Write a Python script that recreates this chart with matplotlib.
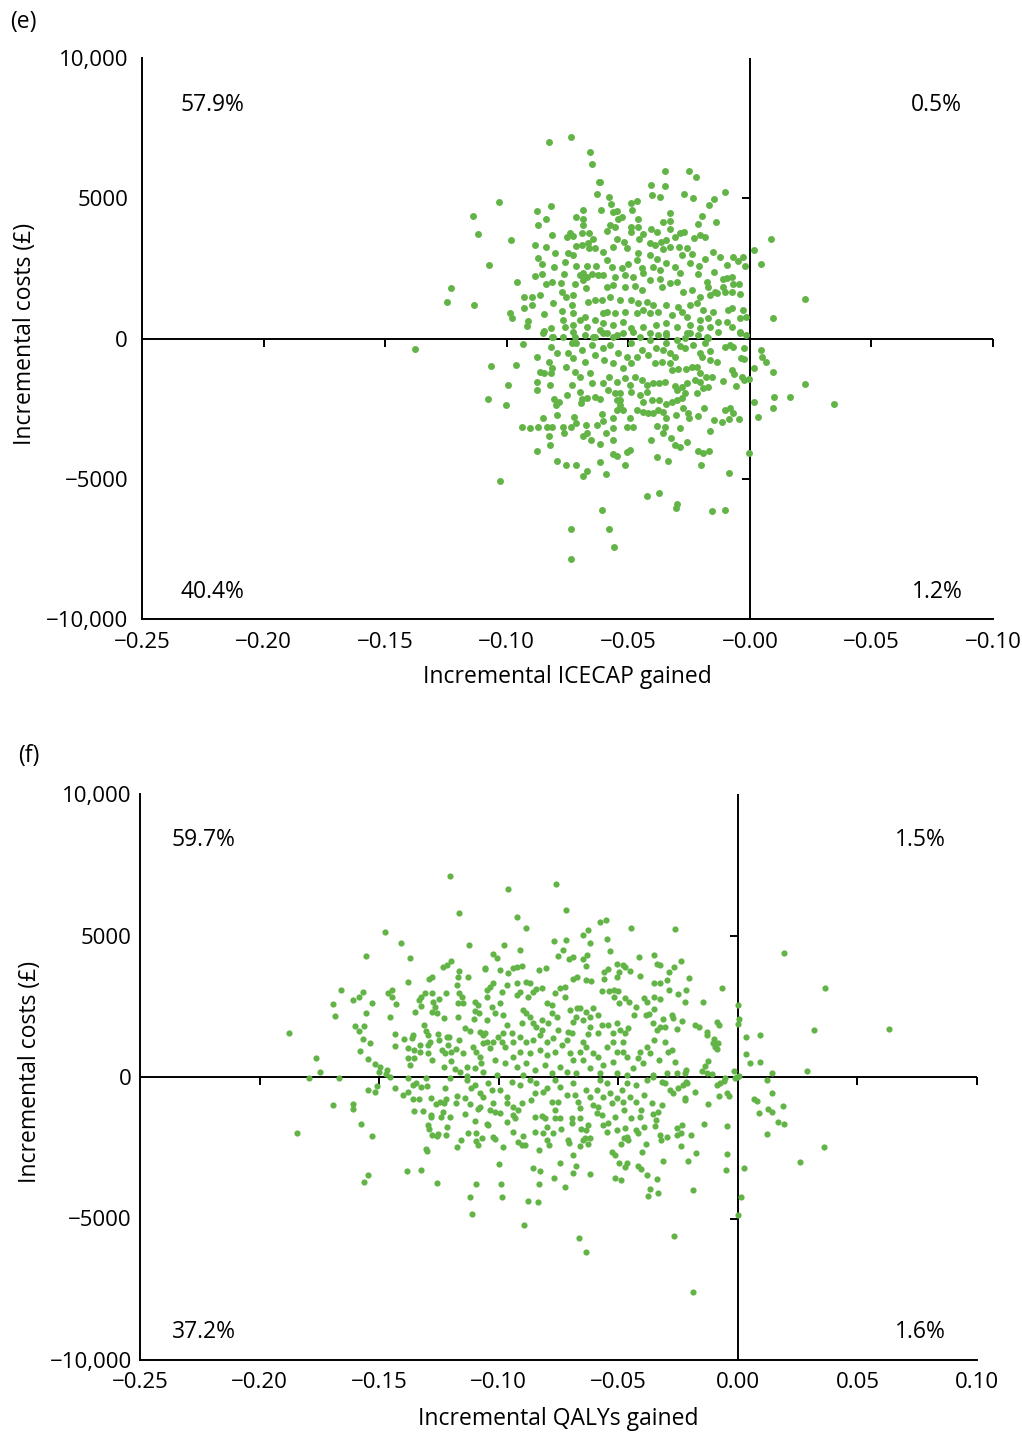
import numpy as np
import matplotlib
matplotlib.use("Agg")
import matplotlib.pyplot as plt

plt.rcParams['font.family'] = ['Open Sans', 'DejaVu Sans']

GREEN = '#63b446'

# ---------------- data: panel (e) incremental ICECAP gained vs incremental cost ----------------
icecap_points = [
(-0.0827,6995),(-0.0736,7172),(-0.0658,6660),(-0.0649,6232),(-0.0620,5579),(-0.0628,5162),(-0.0580,5044),(-0.0613,4581),
(-0.1031,4877),(-0.1138,4356),(-0.1120,3714),(-0.0983,3522),(-0.1073,2610),(-0.1231,1811),(-0.1247,1290),(-0.1136,1194),(-0.0958,2003),
(-0.0877,4556),(-0.0818,4713),(-0.0840,4271),(-0.0871,4046),(-0.0813,3690),(-0.0687,4581),(-0.0713,4342),(-0.0687,4250),(-0.0686,4046),
(-0.0884,3333),(-0.0839,3251),(-0.0870,2859),(-0.0803,3037),(-0.0853,2656),(-0.0805,2549),(-0.0884,2228),(-0.0853,2299),(-0.0839,1943),(-0.0813,2003),
(-0.0928,1479),(-0.0895,1490),(-0.0927,1098),(-0.0898,1194),(-0.0862,1551),(-0.0810,1255),(-0.0846,884),(-0.0987,920),(-0.0980,742),(-0.0912,624),(-0.0918,446),
(-0.0847,278),(-0.0816,364),(-0.0813,64),
(-0.0754,3629),(-0.0740,3750),(-0.0727,3654),(-0.0692,3750),(-0.0661,3772),(-0.0645,3536),(-0.0717,3308),(-0.0692,3333),(-0.0665,3394),(-0.0747,3059),(-0.0729,2977),(-0.0663,3216),(-0.0637,3216),
(-0.0761,2738),(-0.0716,2595),(-0.0669,2595),(-0.0631,2595),(-0.0764,2299),(-0.0699,2264),(-0.0688,2346),(-0.0671,2203),(-0.0651,2299),(-0.0624,2264),(-0.0720,1943),(-0.0688,2086),
(-0.0777,1967),(-0.0774,1668),(-0.0757,1490),(-0.0727,1551),(-0.0673,1790),(-0.0665,1312),(-0.0637,1372),(-0.0610,1372),
(-0.0732,1194),(-0.0774,991),(-0.0727,898),(-0.0699,660),(-0.0679,777),(-0.0637,660),(-0.0603,898),(-0.0768,660),(-0.0761,421),(-0.0729,481),(-0.0671,421),(-0.0617,303),(-0.0720,64),(-0.0637,64),(-0.0589,185),
(-0.0347,5971),(-0.0252,5971),(-0.0223,5768),(-0.0407,5483),(-0.0348,5426),(-0.0402,5105),(-0.0370,5055),(-0.0269,5141),(-0.0234,5009),(-0.0104,5223),(-0.0148,4984),(-0.0169,4749),(-0.0196,4378),(-0.0140,4142),(-0.0215,4082),
(-0.0617,5590),(-0.0573,4784),(-0.0562,4521),(-0.0548,4556),(-0.0489,4841),(-0.0464,4902),(-0.0484,4581),(-0.0458,4260),(-0.0524,4321),(-0.0541,4260),
(-0.0330,4474),(-0.0330,4200),(-0.0359,4142),(-0.0329,3893),(-0.0408,3904),(-0.0458,3964),(-0.0489,3964),(-0.0489,3786),(-0.0589,3832),(-0.0576,4046),(-0.0555,3986),
(-0.0439,3725),(-0.0380,3786),(-0.0288,3750),(-0.0271,3807),(-0.0229,3572),(-0.0206,3690),(-0.0185,3608),
(-0.0548,3536),(-0.0455,3547),(-0.0517,3451),(-0.0411,3415),(-0.0391,3333),(-0.0366,3451),(-0.0343,3511),(-0.0308,3629),(-0.0329,3251),(-0.0292,3273),(-0.0258,3216),
(-0.0151,3073),(-0.0121,2895),(-0.0069,2895),(-0.0048,2774),(-0.0028,2895),(-0.0021,2595),(-0.0093,2620),
(-0.0236,3012),(-0.0281,2977),(-0.0247,2681),(-0.0209,2585),(-0.0185,2823),(-0.0147,2381),(-0.0215,2299),
(-0.0357,3180),(-0.0411,2977),(-0.0381,2823),(-0.0459,3037),(-0.0507,3216),(-0.0562,3273),(-0.0603,3094),(-0.0589,2798),(-0.0569,2560),(-0.0524,2503),(-0.0500,2656),(-0.0466,2798),(-0.0445,2503),(-0.0398,2560),(-0.0370,2442),(-0.0343,2681),(-0.0308,2560),(-0.0288,2324),
(-0.0603,2264),(-0.0555,2203),(-0.0514,2264),(-0.0480,2203),(-0.0439,2324),(-0.0411,2086),(-0.0370,2110),(-0.0329,1968),(-0.0299,2025),
(-0.0178,2025),(-0.0172,1847),(-0.0144,1668),(-0.0110,2110),(-0.0096,2146),(-0.0075,2182),(-0.0069,1932),(-0.0044,1943),(-0.0110,1847),(-0.0103,1647),(-0.0075,1647),(-0.0041,1576),(-0.0137,1611),(-0.0165,1551),
(-0.0589,1847),(-0.0562,1907),(-0.0514,1847),(-0.0473,1882),(-0.0445,1729),(-0.0363,1847),(-0.0274,1668),(-0.0240,1729),(-0.0206,1490),
(-0.0576,1490),(-0.0535,1372),(-0.0487,1372),(-0.0459,1255),(-0.0425,1312),(-0.0398,1194),(-0.0343,1194),(-0.0295,1134),(-0.0247,1194),(-0.0219,1276),(-0.0192,1016),(-0.0151,955),(-0.0089,1016),(-0.0075,1077),(-0.0028,1016),
(-0.0589,955),(-0.0555,898),(-0.0514,955),(-0.0466,898),(-0.0439,1016),(-0.0411,898),(-0.0377,955),(-0.0322,838),(-0.0281,955),(-0.0260,777),(-0.0206,660),(-0.0172,720),(-0.0130,599),(-0.0096,599),(-0.0041,720),(-0.0014,756),
(-0.0603,542),(-0.0562,481),(-0.0521,599),(-0.0487,364),(-0.0439,421),(-0.0384,481),(-0.0343,542),(-0.0301,421),(-0.0247,481),(-0.0206,364),(-0.0165,421),(-0.0075,421),(-0.0041,232),(-0.0014,125),
(-0.0548,125),(-0.0411,185),(-0.0343,125),(-0.0247,185),(-0.0178,64),
(0.0015,3155),(0.0086,3558),(0.0044,2656),(0.0227,1397),(0.0095,720),
(-0.1379,-364),(-0.0931,-196),(-0.1065,-991),(-0.0960,-955),(-0.0993,-1647),(-0.1079,-2146),(-0.1002,-2381),
(-0.0877,-670),(-0.0825,-838),(-0.0864,-1194),(-0.0846,-1219),(-0.0816,-1241),(-0.0812,-1062),(-0.0876,-1561),(-0.0875,-1825),(-0.0824,-1647),
(-0.0818,-292),(-0.0794,-528),(-0.0758,-1005),(-0.0732,-1668),(-0.0754,-2025),(-0.0805,-2146),(-0.0784,-2253),(-0.0799,-2381),
(-0.0700,-1918),(-0.0692,-2157),(-0.0671,-2132),(-0.0696,-2310),(-0.0635,-2096),(-0.0617,-2157),
(-0.0938,-3166),(-0.0905,-3180),(-0.0871,-3166),(-0.0835,-3166),(-0.0812,-3155),(-0.0849,-2834),(-0.0794,-2717),(-0.0828,-3465),(-0.0822,-3807),(-0.0877,-4000),
(-0.0770,-3166),(-0.0764,-3358),(-0.0735,-3144),(-0.0725,-2810),(-0.0713,-3002),(-0.0675,-3094),(-0.0668,-3358),(-0.0688,-3476),(-0.0654,-3629),(-0.0618,-3761),(-0.0628,-3073),(-0.0609,-2692),(-0.0605,-2931),(-0.0592,-3369),
(-0.0795,-4356),(-0.0756,-4521),(-0.0713,-4499),(-0.0687,-4902),(-0.0671,-4724),(-0.0616,-4392),(-0.0592,-4831),
(-0.1029,-5080),(-0.0608,-6103),(-0.0736,-6791),(-0.0581,-6791),(-0.0559,-7422),(-0.0736,-7850),
(-0.0850,185),(-0.0809,64),(-0.0768,64),(-0.0727,242),(-0.0679,125),(-0.0645,64),(-0.0603,185),
(-0.0733,-171),(-0.0713,-150),(-0.0692,-410),(-0.0651,-232),(-0.0603,-349),(-0.0576,-232),
(-0.0747,-528),(-0.0727,-706),(-0.0679,-827),(-0.0637,-588),(-0.0600,-766),(-0.0562,-884),
(-0.0720,-1184),(-0.0699,-1362),(-0.0658,-1241),(-0.0651,-1597),(-0.0606,-1597),(-0.0579,-1362),(-0.0548,-1540),(-0.0583,-1836),(-0.0555,-1954),(-0.0548,-2193),(-0.0548,-2549),(-0.0562,-2845),(-0.0562,-3201),(-0.0562,-3618),(-0.0562,-4117),(-0.0548,-4189),
(0.0044,-410),(0.0048,-648),(0.0065,-838),(0.0016,-1062),(0.0097,-1194),(0.0228,-1633),(0.0015,-2253),(0.0100,-2086),(0.0167,-2086),(0.0097,-2467),(0.0033,-2810),(0.0345,-2346),(-0.0004,-4082),
(-0.0086,-4806),(-0.0202,-4499),(-0.0170,-4021),(-0.0213,-4000),(-0.0192,-4093),(-0.0337,-4378),(-0.0380,-4236),(-0.0422,-5615),(-0.0374,-5497),(-0.0301,-5900),(-0.0304,-6043),(-0.0156,-6139),(-0.0102,-6125),
(-0.0514,-4521),(-0.0406,-3618),(-0.0324,-3536),(-0.0308,-3797),(-0.0288,-3857),(-0.0258,-3679),(-0.0289,-3201),(-0.0359,-3380),(-0.0348,-3144),(-0.0380,-3109),(-0.0507,-4035),(-0.0494,-3975),
(-0.0215,-2763),(-0.0188,-2467),(-0.0165,-3287),(-0.0149,-2916),(-0.0114,-2988),(-0.0085,-2870),(-0.0045,-2859),(-0.0103,-2549),(-0.0082,-2488),(-0.0069,-2645),
(-0.0112,-1504),(-0.0055,-1693),(-0.0034,-1362),(-0.0025,-1479),(-0.0003,-1455),(-0.0073,-1123),(-0.0065,-1276),(-0.0038,-706),(-0.0025,-742),(-0.0025,-349),(-0.0082,-232),(-0.0103,-292),(-0.0069,-292),(-0.0041,207),(-0.0130,242),
(-0.0137,-827),(-0.0165,-766),(-0.0165,-435),(-0.0206,-528),(-0.0195,-648),(-0.0185,-171),(-0.0172,7),(-0.0213,125),(-0.0233,-232),(-0.0267,-349),
(-0.0236,-1005),(-0.0219,-1005),(-0.0206,-1241),(-0.0226,-1479),(-0.0206,-1540),(-0.0181,-1383),(-0.0155,-1383),(-0.0192,-1775),(-0.0172,-1718),(-0.0219,-1954),
(-0.0260,-1597),(-0.0281,-1718),(-0.0301,-1836),(-0.0267,-1954),(-0.0281,-2132),(-0.0301,-2193),(-0.0322,-2253),(-0.0343,-2335),(-0.0373,-2193),(-0.0377,-2549),(-0.0357,-2610),(-0.0343,-2845),(-0.0304,-2727),(-0.0274,-2488),(-0.0254,-2645),(-0.0250,-2845),
(-0.0322,-1123),(-0.0295,-1098),(-0.0263,-1098),(-0.0306,-1693),(-0.0350,-1540),(-0.0373,-1597),(-0.0398,-1597),(-0.0425,-1658),(-0.0445,-1479),(-0.0473,-1362),(-0.0494,-1658),(-0.0514,-1419),
(-0.0535,-1954),(-0.0487,-1896),(-0.0452,-2014),(-0.0425,-1896),(-0.0535,-2193),(-0.0535,-2371),(-0.0521,-2549),(-0.0494,-2845),(-0.0466,-2549),(-0.0439,-2610),(-0.0418,-2667),(-0.0398,-2667),(-0.0480,-3144),(-0.0507,-3144),
(-0.0439,-2253),(-0.0404,-2193),(-0.0391,-884),(-0.0363,-827),(-0.0329,-884),(-0.0308,-648),(-0.0329,-528),(-0.0357,-410),(-0.0384,-349),(-0.0418,-588),(-0.0445,-410),(-0.0466,-648),(-0.0487,-884),(-0.0521,-1062),(-0.0507,-648),(-0.0541,-528),
(-0.0487,-171),(-0.0411,-53),(-0.0452,64),(-0.0377,125),(-0.0343,185),(-0.0301,-53),(-0.0267,7),(-0.0260,185),(-0.0521,185),(-0.0562,64),(-0.0480,242),(-0.0343,-171),(-0.0288,-267),
]

# ---------------- data: panel (f) incremental QALYs gained vs incremental cost ----------------
qaly_points = [
(-0.1204,7093),(-0.1167,5806),(-0.1126,4676),(-0.1475,5135),(-0.1408,4725),(-0.1372,4195),(-0.1557,4266),(-0.1661,3075),(-0.1695,2580),(-0.1685,2156),(-0.1611,2721),(-0.1584,2838),(-0.1569,2993),(-0.1530,2604),(-0.1557,2251),(-0.1602,1802),(-0.1586,1636),(-0.1564,1802),(-0.1568,1354),(-0.1539,1191),(-0.1581,919),(-0.1546,626),(-0.1519,459),(-0.1497,364),(-0.1469,247),(-0.1500,187),(-0.1472,106),(-0.1455,-11),
(-0.1878,1555),(-0.1762,671),(-0.1748,187),(-0.1793,-46),(-0.1667,-46),
(-0.1462,2979),(-0.1445,3075),(-0.1448,2838),(-0.1430,2580),(-0.1455,2131),(-0.1433,1520),(-0.1434,1096),(-0.1394,1332),(-0.1381,3347),(-0.1380,1014),(-0.1381,682),(-0.1372,424),(-0.1358,1484),(-0.1362,1368),(-0.1351,2297),(-0.1356,954),(-0.1355,661),
(-0.1330,1131),(-0.1330,894),(-0.1295,1131),(-0.1288,1248),(-0.1295,838),(-0.1277,601),(-0.1313,1838),(-0.1305,1636),(-0.1295,1484),(-0.1333,2721),(-0.1323,2815),(-0.1309,2979),(-0.1326,2521),(-0.1291,3463),(-0.1277,3545),(-0.1277,2979),(-0.1274,2662),(-0.1267,2486),(-0.1281,2308),(-0.1260,2273),(-0.1250,2746),(-0.1228,2074),(-0.1221,2958),(-0.1232,3898),(-0.1218,3958),(-0.1200,4110),(-0.1167,3746),(-0.1172,3545),(-0.1129,3523),(-0.1174,3251),(-0.1167,2979),(-0.1155,2815),(-0.1170,2604),(-0.1149,2604),(-0.1172,2110),(-0.1142,1721),(-0.1121,1636),(-0.1100,2662),(-0.1086,2545),(-0.1100,2343),(-0.1082,2251),(-0.1102,2039),(-0.1059,3841),(-0.1051,3075),(-0.1051,2838),(-0.1051,2014),(-0.1079,1601),(-0.1065,1484),
(-0.1254,1520),(-0.1250,1308),(-0.1218,1425),(-0.1207,1425),(-0.1167,1308),(-0.1211,1131),(-0.1236,954),(-0.1225,838),(-0.1179,979),(-0.1200,894),(-0.1151,838),(-0.1201,565),(-0.1228,343),(-0.1183,272),(-0.1162,187),(-0.1134,364),(-0.1107,1071),(-0.1093,894),(-0.1079,717),(-0.1072,484),(-0.1100,307),(-0.1065,187),(-0.1051,1248),
(-0.1381,-46),(-0.1306,-46),(-0.1204,-46),(-0.1134,35),
(-0.1843,-1990),(-0.1694,-1000),(-0.1609,-944),(-0.1610,-1120),(-0.1574,-1661),(-0.1528,-2096),(-0.1547,-3453),(-0.1565,-3700),(-0.1384,-3322),(-0.1323,-3276),(-0.1256,-3758),(-0.1097,-3781),(-0.1118,-4241),(-0.1111,-4853),
(-0.1507,-330),(-0.1518,-518),(-0.1547,-459),(-0.1433,-377),(-0.1400,-636),(-0.1379,-518),(-0.1360,-283),(-0.1344,-224),(-0.1326,-365),(-0.1300,-318),(-0.1358,-789),(-0.1334,-789),(-0.1354,-1190),(-0.1318,-1190),(-0.1284,-754),(-0.1285,-1343),(-0.1284,-1426),(-0.1296,-1685),(-0.1291,-1850),(-0.1278,-2050),(-0.1260,-2085),(-0.1252,-2014),(-0.1306,-2544),(-0.1298,-2615),
(-0.1264,-966),(-0.1246,-872),(-0.1228,-931),(-0.1221,-789),(-0.1234,-1225),(-0.1241,-1402),(-0.1203,-1414),(-0.1217,-1779),(-0.1220,-2050),(-0.1223,-401),(-0.1175,-671),(-0.1179,-931),(-0.1142,-730),(-0.1121,-954),(-0.1140,-1320),(-0.1098,-1555),(-0.1128,-1990),(-0.1096,-1990),(-0.1157,-2238),(-0.1176,-2474),(-0.1096,-2250),(-0.1087,-2415),(-0.1069,-2168),
(-0.1086,-1143),(-0.1079,-1048),(-0.1114,-401),(-0.1100,-283),(-0.1079,-577),(-0.1065,-719),(-0.1048,-1673),(-0.1044,-224),(-0.1134,-106),
(-0.0960,6633),(-0.0761,6821),(-0.0719,5913),(-0.0925,5665),(-0.0887,5266),(-0.0578,5478),(-0.0551,5548),(-0.0447,5277),(-0.0261,5230),(-0.0977,4654),(-0.0909,4499),(-0.0767,4796),(-0.0720,4831),(-0.0649,5018),(-0.0627,5206),(-0.0619,4725),(-0.0547,4866),(-0.0534,4453),(-0.0731,4477),(-0.0751,4276),(-0.0705,4170),(-0.0689,4252),(-0.0629,4312),(-0.0647,4160),(-0.1023,4347),(-0.1006,4195),(-0.1059,3828),(-0.0995,3781),(-0.0963,3686),(-0.0942,3841),(-0.0923,3898),(-0.0903,3923),(-0.0832,3781),(-0.0802,3841),
(-0.0415,4230),(-0.0352,4312),(-0.0340,3983),(-0.0326,3958),(-0.0237,4110),(-0.0266,3876),(-0.0290,3721),(-0.0507,3993),(-0.0482,3958),(-0.0470,3876),(-0.0452,3757),(-0.0496,3721),(-0.0410,3580),(-0.0351,3333),(-0.0326,3311),(-0.0298,3428),(-0.0206,3488),(-0.0215,3075),(-0.0252,2923),(-0.0219,2662),(-0.0290,3075),(-0.0326,2746),(-0.0351,2838),(-0.0392,2781),(-0.0379,2662),
(-0.0633,3934),(-0.0637,3428),(-0.0616,3393),(-0.0672,3545),(-0.0691,3463),(-0.0560,3721),(-0.0545,3806),(-0.0559,3463),(-0.0505,3523),(-0.0567,3050),(-0.0538,3050),(-0.0517,3075),(-0.0501,3050),(-0.0517,2838),(-0.0473,2781),(-0.0496,2604),(-0.0455,2662),(-0.0424,2486),(-0.0435,2191),(-0.0386,2191),(-0.0371,2226),(-0.0351,2392),(-0.0354,1898),(-0.0312,2039),(-0.0277,2191),(-0.0271,2074),(-0.0254,1686),(-0.0235,1990),(-0.0340,1661),(-0.0326,1778),(-0.0305,1778),(-0.0350,1308),(-0.0305,1248),(-0.0277,954),(-0.0291,894),(-0.0263,541),(-0.0329,601),(-0.0368,838),(-0.0382,1071),(-0.0410,894),(-0.0417,661),(-0.0396,484),(-0.0438,307),(-0.0480,1248),(-0.0507,1898),(-0.0493,1661),(-0.0521,1544),(-0.0473,1544),(-0.0459,1721),(-0.0521,1248),(-0.0549,1071),(-0.0507,894),(-0.0480,894),(-0.0465,717),(-0.0521,541),(-0.0563,424),(-0.0584,717),(-0.0584,1544),(-0.0570,1838),(-0.0542,1838),(-0.0619,1778),(-0.0584,2191),(-0.0605,2427),(-0.0633,2308),(-0.0661,2427),(-0.0675,2131),(-0.0647,2014),(-0.0619,2131),(-0.0626,1520),(-0.0647,1248),(-0.0633,1071),(-0.0661,894),(-0.0605,838),(-0.0647,601),(-0.0619,307),(-0.0689,601),(-0.0703,838),(-0.0695,1544),(-0.0716,1308),(-0.0710,1601),(-0.0689,1954),(-0.0703,2368),(-0.0672,2427),(-0.0723,2838),(-0.0723,3191),(-0.0744,3135),(-0.0765,2958),(-0.0779,2545),(-0.0800,2604),(-0.0779,2251),(-0.0758,2131),(-0.0793,1898),(-0.0821,2014),(-0.0856,1898),(-0.0842,1778),(-0.0821,1661),(-0.0870,2131),(-0.0884,2251),(-0.0904,1898),(-0.0898,2368),(-0.0912,3015),(-0.0877,2838),(-0.0856,3015),(-0.0842,3099),(-0.0821,3135),(-0.0870,3311),(-0.0884,3368),(-0.0925,3311),(-0.0925,2898),(-0.0967,3251),(-0.0988,3015),(-0.1023,3333),(-0.1037,3191),(-0.1030,2486),(-0.0995,2604),(-0.0981,2191),(-0.1016,2251),(-0.0967,1838),(-0.0946,1544),(-0.0981,1544),(-0.1002,1425),(-0.1023,1248),(-0.0988,1248),(-0.1058,1544),(-0.1065,1191),(-0.1037,1014),(-0.0974,1071),(-0.0940,1248),(-0.0912,1425),(-0.0884,1248),(-0.0856,1308),(-0.0828,1484),(-0.0800,1248),(-0.0772,1368),(-0.0751,1661),(-0.0737,1131),(-0.0765,894),(-0.0800,777),(-0.0828,954),(-0.0870,838),(-0.0912,894),(-0.0940,717),(-0.0974,484),(-0.1016,601),(-0.0925,364),(-0.0884,484),(-0.0849,247),(-0.0807,424),(-0.0779,131),(-0.0744,364),(-0.0716,187),(-0.0675,131),(-0.0577,131),(-0.0507,131),(-0.0465,71),(-0.0354,71),(-0.0298,131),(-0.0215,247),(-0.1009,71),(-0.0898,71),
(0.0195,4393),(0.0365,3135),(0.0630,1686),(0.0317,1650),(0.0001,2545),(0.0004,2062),(0.0001,1884),(0.0035,1425),(0.0091,1484),(0.0035,824),(0.0049,506),(0.0091,530),(0.0144,131),(0.0290,223),(-0.0015,223),(-0.0003,11),
(-0.0068,3145),(-0.0145,2651),(-0.0180,1827),(-0.0162,1767),(-0.0089,1954),(-0.0079,1838),(-0.0131,1601),(-0.0131,1472),(-0.0099,1343),(-0.0082,1202),(-0.0103,1212),(-0.0096,1071),(-0.0087,990),(-0.0124,576),(-0.0138,400),(-0.0152,201),(-0.0131,152),(-0.0110,117),(-0.0222,131),(-0.0054,-46),
(-0.0999,-3075),(-0.0990,-3781),(-0.0987,-4241),(-0.0879,-4382),(-0.0836,-4406),(-0.0896,-5230),(-0.0666,-5701),(-0.0633,-6173),(-0.0269,-5619),(-0.0857,-3216),(-0.0828,-3311),(-0.0831,-3781),(-0.0767,-3581),(-0.0722,-3899),(-0.0743,-3050),(-0.0691,-2746),(-0.0676,-3145),(-0.0689,-3404),(-0.0620,-3439),(-0.0832,-2580),(-0.0981,-2486),(-0.1023,-2110),(-0.1016,-2203),(-0.0920,-2286),(-0.0902,-2403),(-0.0891,-2403),(-0.0940,-1954),(-0.0898,-2074),(-0.0849,-1933),(-0.0814,-1990),(-0.0800,-2226),(-0.0789,-2403),(-0.0800,-1778),(-0.0772,-1990),(-0.0741,-1848),(-0.0710,-2226),(-0.0707,-2322),(-0.0661,-2439),(-0.0647,-2226),(-0.0640,-2168),(-0.0619,-2168),(-0.0626,-2368),(-0.0654,-1848),(-0.0633,-1873),(-0.0626,-1696),(-0.0661,-1438),(-0.0695,-1460),(-0.0693,-1636),(-0.0744,-1460),(-0.0765,-1460),(-0.0821,-1378),(-0.0807,-1460),(-0.0849,-1402),(-0.0965,-1578),(-0.1045,-1696),(-0.0940,-1343),(-0.0932,-1460),(-0.0995,-1283),(-0.1016,-1225),(-0.1037,-1166),(-0.0904,-907),(-0.0919,-1166),(-0.0940,-1048),(-0.0967,-931),(-0.1023,-931),(-0.0863,-813),(-0.0849,-577),(-0.0814,-518),(-0.0779,-872),(-0.0751,-872),(-0.0765,-1166),(-0.0716,-636),(-0.0682,-636),(-0.0668,-872),(-0.0661,-1107),(-0.0633,-459),(-0.0619,-695),(-0.0605,-990),(-0.0584,-1048),(-0.0591,-1283),(-0.0570,-1343),(-0.0563,-1696),(-0.0542,-1636),(-0.0549,-1933),(-0.0528,-2640),(-0.0514,-2757),(-0.0496,-3050),(-0.0465,-3050),(-0.0473,-3170),(-0.0513,-3558),(-0.0489,-3640),(-0.0417,-3145),(-0.0403,-3262),(-0.0379,-3463),(-0.0339,-3604),(-0.0368,-3969),(-0.0375,-4206),(-0.0336,-4110),(-0.0315,-2969),(-0.0399,-2640),(-0.0385,-2368),(-0.0465,-2110),(-0.0459,-2226),(-0.0477,-2168),(-0.0489,-2368),(-0.0424,-1873),(-0.0417,-1990),(-0.0393,-1756),(-0.0445,-1460),(-0.0507,-1873),(-0.0470,-1814),(-0.0514,-1402),(-0.0410,-1402),(-0.0407,-1166),(-0.0354,-1308),(-0.0344,-1520),(-0.0347,-1732),(-0.0361,-931),(-0.0319,-990),(-0.0336,-1225),(-0.0326,-2050),(-0.0323,-2226),(-0.0298,-2110),(-0.0256,-1814),(-0.0256,-2050),(-0.0235,-1696),(-0.0238,-1990),(-0.0238,-2439),(-0.0208,-2958),(-0.0392,-636),(-0.0424,-872),(-0.0452,-695),(-0.0480,-872),(-0.0477,-1166),(-0.0507,-754),(-0.0528,-931),(-0.0535,-577),(-0.0486,-459),(-0.0465,-224),(-0.0424,-283),(-0.0382,-106),(-0.0354,11),(-0.0319,-165),(-0.0305,-224),(-0.0284,-459),(-0.0271,-577),(-0.0250,-401),(-0.0229,-283),(-0.0222,-754),(-0.0256,131),(-0.0215,-165),(-0.0577,-106),(-0.0549,-224),(-0.0591,-459),(-0.0563,-695),(-0.0689,-224),(-0.0744,-342),(-0.0765,-106),(-0.0800,-401),(-0.0842,-224),(-0.0870,-106),(-0.0912,-283),(-0.0946,-165),(-0.0995,-459),(-0.1030,-459),(-0.0967,-695),
(0.0123,-106),(0.0141,-577),(0.0067,-789),(0.0082,-848),(0.0089,-1283),(0.0127,-1142),(0.0142,-1225),(0.0188,-1025),(0.0166,-1578),(0.0195,-1673),(0.0121,-2014),(0.0361,-2486),(0.0259,-3015),(0.0025,-3216),(0.0015,-4252),(0.0000,-4877),(0.0005,35),(-0.0013,-46),
(-0.0187,-7587),(-0.0189,-4004),(-0.0051,-3287),(-0.0046,-2733),(-0.0176,-2675),(-0.0197,-2050),(-0.0143,-1661),(-0.0046,-1742),(-0.0123,-944),(-0.0223,-802),(-0.0181,-518),(-0.0212,-200),(-0.0089,-283),(-0.0075,-224),(-0.0057,-141),(-0.0077,-683),(-0.0046,-577),(-0.0035,-683),
]

# axis ticks / labels
x_ticks = [-0.25, -0.20, -0.15, -0.10, -0.05, 0.00, 0.05, 0.10]
x_labels_e = ['\u22120.25', '\u22120.20', '\u22120.15', '\u22120.10', '\u22120.05', '\u22120.00', '\u22120.05', '\u22120.10']
x_labels_f = ['\u22120.25', '\u22120.20', '\u22120.15', '\u22120.10', '\u22120.05', '0.00', '0.05', '0.10']
y_ticks = [-10000, -5000, 0, 5000, 10000]
y_labels = ['\u221210,000', '\u22125000', '0', '5000', '10,000']
zero_x_marks = [-0.20, -0.15, -0.10, -0.05, 0.05, 0.10]
zero_y_marks = [-5000, 5000]

quadrant_e = ['57.9%', '0.5%', '40.4%', '1.2%']
quadrant_f = ['59.7%', '1.5%', '37.2%', '1.6%']

FS_TICK = 16
FS_TEXT = 16.5

fig = plt.figure(figsize=(10.22, 14.32), dpi=100)
axE = fig.add_axes([142/1022, 1-619/1432, 851/1022, 561/1432])
axF = fig.add_axes([140/1022, 1-1360/1432, 837/1022, 566/1432])


def draw(ax, pts, xlabels, xlabel, quad, qpos, ylabpos, xlabpos, ypad, msize):
    arr = np.array(pts)
    ax.scatter(arr[:, 0], arr[:, 1], s=msize, color=GREEN, linewidths=0, zorder=3)
    ax.set_xlim(-0.25, 0.10)
    ax.set_ylim(-10000, 10000)
    for s in ['top', 'right']:
        ax.spines[s].set_visible(False)
    for s in ['left', 'bottom']:
        ax.spines[s].set_linewidth(1.4)
        ax.spines[s].set_color('black')
    ax.set_xticks(x_ticks)
    ax.set_xticklabels(xlabels)
    ax.set_yticks(y_ticks)
    ax.set_yticklabels(y_labels)
    ax.tick_params(axis='x', length=0, pad=9, labelsize=FS_TICK)
    ax.tick_params(axis='y', length=0, pad=ypad, labelsize=FS_TICK)
    ax.axhline(0, color='black', lw=1.4, zorder=2)
    ax.axvline(0, color='black', lw=1.4, zorder=2)
    ax.plot(zero_x_marks, [0]*len(zero_x_marks), ls='none', marker=3, ms=6,
            mew=1.4, color='black', clip_on=False, zorder=2)
    ax.plot([0]*len(zero_y_marks), zero_y_marks, ls='none', marker=0, ms=6,
            mew=1.4, color='black', clip_on=False, zorder=2)
    ax.set_xlabel(xlabel, fontsize=FS_TEXT)
    ax.xaxis.set_label_coords(*xlabpos)
    ax.xaxis.label.set_va('center')
    ax.set_ylabel('Incremental costs (\u00a3)', fontsize=FS_TEXT)
    ax.yaxis.set_label_coords(*ylabpos)
    ax.yaxis.label.set_va('center')
    (lx, rx, ty, by) = qpos
    ax.text(lx, ty, quad[0], transform=ax.transAxes, ha='left', va='center', fontsize=FS_TEXT)
    ax.text(rx, ty, quad[1], transform=ax.transAxes, ha='right', va='center', fontsize=FS_TEXT)
    ax.text(lx, by, quad[2], transform=ax.transAxes, ha='left', va='center', fontsize=FS_TEXT)
    ax.text(rx, by, quad[3], transform=ax.transAxes, ha='right', va='center', fontsize=FS_TEXT)


draw(axE, icecap_points, x_labels_e, 'Incremental ICECAP gained', quadrant_e,
     (0.045, 0.964, 0.916, 0.049), (-0.138, 0.508), (0.5, -0.103), 10, 25)
draw(axF, qaly_points, x_labels_f, 'Incremental QALYs gained', quadrant_f,
     (0.038, 0.963, 0.919, 0.049), (-0.131, 0.509), (0.5, -0.104), 6, 20)

fig.text(10/1022, 1-22/1432, '(e)', ha='left', va='center', fontsize=FS_TEXT)
fig.text(18/1022, 1-756/1432, '(f)', ha='left', va='center', fontsize=FS_TEXT)

fig.savefig('out.png', dpi=100)
